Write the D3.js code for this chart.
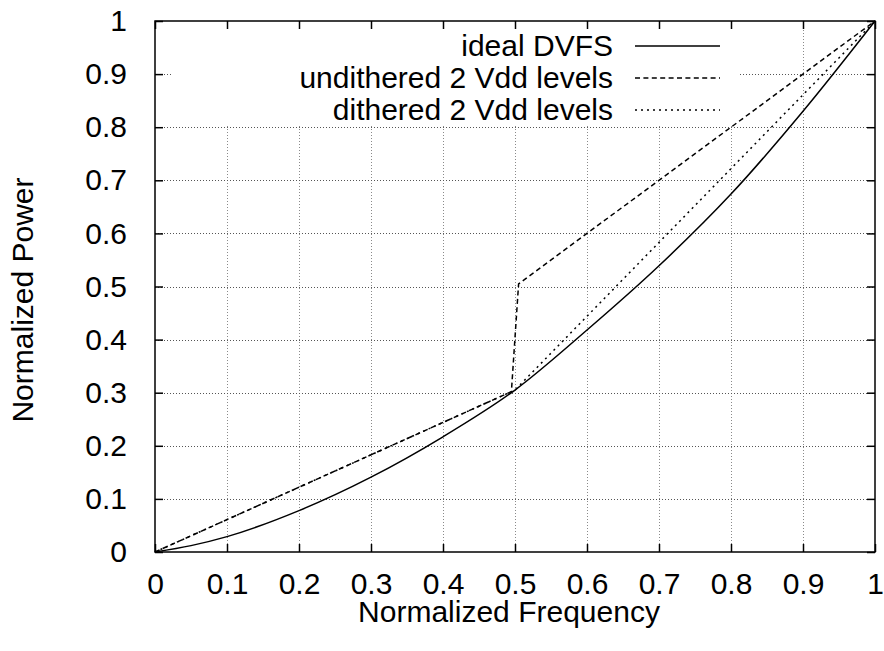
<!DOCTYPE html>
<html>
<head>
<meta charset="utf-8">
<script src="https://cdn.jsdelivr.net/npm/d3@7"></script>
<style>
  body { margin: 0; background: #fff; }
  svg { display: block; font-family: "Liberation Sans", Arial, Helvetica, sans-serif; }
</style>
</head>
<body>
<div id="vis"></div>
<script>
// data
const freq = [0, 0.05, 0.1, 0.2, 0.3, 0.4, 0.5, 0.6, 0.7, 0.8, 0.9, 1];
const idealPower = [0, 0.012, 0.029, 0.078, 0.141, 0.217, 0.305, 0.418, 0.539, 0.674, 0.83, 1];

const undFreq = [0, 0.495, 0.505, 1];
const undPower = [0, 0.302, 0.505, 1];

const ditFreq = [0, 0.5, 1];
const ditPower = [0, 0.305, 1];

const tickValues = [0, 0.1, 0.2, 0.3, 0.4, 0.5, 0.6, 0.7, 0.8, 0.9, 1];
const tickLabels = ["0", "0.1", "0.2", "0.3", "0.4", "0.5", "0.6", "0.7", "0.8", "0.9", "1"];

const seriesNames = ["ideal DVFS", "undithered 2 Vdd levels", "dithered 2 Vdd levels"];

// frame
const FRAME_WIDTH = 884;
const FRAME_HEIGHT = 651;
const MARGINS = {left: 155, right: 9, top: 21, bottom: 99};
const VIS_WIDTH = FRAME_WIDTH - MARGINS.left - MARGINS.right;
const VIS_HEIGHT = FRAME_HEIGHT - MARGINS.top - MARGINS.bottom;
const FONT = 30;
const TICK = 8;

const svg = d3.select("#vis")
  .append("svg")
    .attr("width", FRAME_WIDTH)
    .attr("height", FRAME_HEIGHT);

const X_SCALE = d3.scaleLinear().domain([0, 1]).range([MARGINS.left, MARGINS.left + VIS_WIDTH]);
const Y_SCALE = d3.scaleLinear().domain([0, 1]).range([MARGINS.top + VIS_HEIGHT, MARGINS.top]);

// grid
const inner = tickValues.filter((t) => t > 0 && t < 1);
svg.append("g").selectAll("line")
  .data(inner)
  .enter().append("line")
    .attr("x1", (d) => Math.round(X_SCALE(d)) + 0.5)
    .attr("x2", (d) => Math.round(X_SCALE(d)) + 0.5)
    .attr("y1", Y_SCALE(1))
    .attr("y2", Y_SCALE(0))
    .attr("stroke", "#8a8a8a")
    .attr("stroke-width", 1)
    .attr("stroke-dasharray", "1,2");

svg.append("g").selectAll("line")
  .data(inner)
  .enter().append("line")
    .attr("y1", (d) => Math.round(Y_SCALE(d)) + 0.5)
    .attr("y2", (d) => Math.round(Y_SCALE(d)) + 0.5)
    .attr("x1", X_SCALE(0))
    .attr("x2", X_SCALE(1))
    .attr("stroke", "#555")
    .attr("stroke-width", 1)
    .attr("stroke-dasharray", "1,2");

// opaque key box
svg.append("rect")
  .attr("x", 172)
  .attr("y", MARGINS.top + 1)
  .attr("width", 566)
  .attr("height", 104)
  .attr("fill", "#fff");

// curves
const line = d3.line()
  .x((d) => X_SCALE(d[0]))
  .y((d) => Y_SCALE(d[1]));

const styles = [
  {dash: null, curve: d3.curveMonotoneX},
  {dash: "5,3.4", curve: d3.curveLinear},
  {dash: "2,4", curve: d3.curveLinear}
];

const series = [
  d3.zip(freq, idealPower),
  d3.zip(undFreq, undPower),
  d3.zip(ditFreq, ditPower)
];

series.forEach((pts, i) => {
  svg.append("path")
    .datum(pts)
    .attr("d", line.curve(styles[i].curve))
    .attr("fill", "none")
    .attr("stroke", "#000")
    .attr("stroke-width", 1.5)
    .attr("stroke-dasharray", styles[i].dash);
});

// border
svg.append("rect")
  .attr("x", X_SCALE(0))
  .attr("y", Y_SCALE(1))
  .attr("width", VIS_WIDTH)
  .attr("height", VIS_HEIGHT)
  .attr("fill", "none")
  .attr("stroke", "#000")
  .attr("stroke-width", 1.5);

// axes with inward ticks on all four sides
const fmt = (d, i) => tickLabels[i];

const xBottom = svg.append("g")
  .attr("transform", "translate(0," + Y_SCALE(0) + ")")
  .call(d3.axisBottom(X_SCALE).tickValues(tickValues).tickFormat(fmt).tickSizeInner(-TICK).tickSizeOuter(0).tickPadding(TICK + 13));
const xTop = svg.append("g")
  .attr("transform", "translate(0," + Y_SCALE(1) + ")")
  .call(d3.axisTop(X_SCALE).tickValues(tickValues).tickFormat("").tickSizeInner(-TICK).tickSizeOuter(0));
const yLeft = svg.append("g")
  .attr("transform", "translate(" + X_SCALE(0) + ",0)")
  .call(d3.axisLeft(Y_SCALE).tickValues(tickValues).tickFormat(fmt).tickSizeInner(-TICK).tickSizeOuter(0).tickPadding(TICK + 20));
const yRight = svg.append("g")
  .attr("transform", "translate(" + X_SCALE(1) + ",0)")
  .call(d3.axisRight(Y_SCALE).tickValues(tickValues).tickFormat("").tickSizeInner(-TICK).tickSizeOuter(0));

[xBottom, xTop, yLeft, yRight].forEach((g) => {
  g.select(".domain").remove();
  g.selectAll(".tick line").attr("stroke", "#000").attr("stroke-width", 1.5);
  g.selectAll("text").attr("font-size", FONT).attr("fill", "#000").attr("font-family", null);
  g.attr("font-family", null);
});

// key
seriesNames.forEach((name, i) => {
  const y = 46 + i * 32;
  svg.append("text")
    .attr("x", 613)
    .attr("y", y + 10)
    .attr("text-anchor", "end")
    .attr("font-size", FONT)
    .text(name);
  svg.append("line")
    .attr("x1", 635)
    .attr("x2", 720)
    .attr("y1", y)
    .attr("y2", y)
    .attr("stroke", "#000")
    .attr("stroke-width", 1.5)
    .attr("stroke-dasharray", styles[i].dash);
});

// axis labels
svg.append("text")
  .attr("x", 509)
  .attr("y", 622)
  .attr("text-anchor", "middle")
  .attr("font-size", FONT)
  .text("Normalized Frequency");

svg.append("text")
  .attr("transform", "translate(33,300) rotate(-90)")
  .attr("text-anchor", "middle")
  .attr("font-size", FONT)
  .text("Normalized Power");
</script>
</body>
</html>
